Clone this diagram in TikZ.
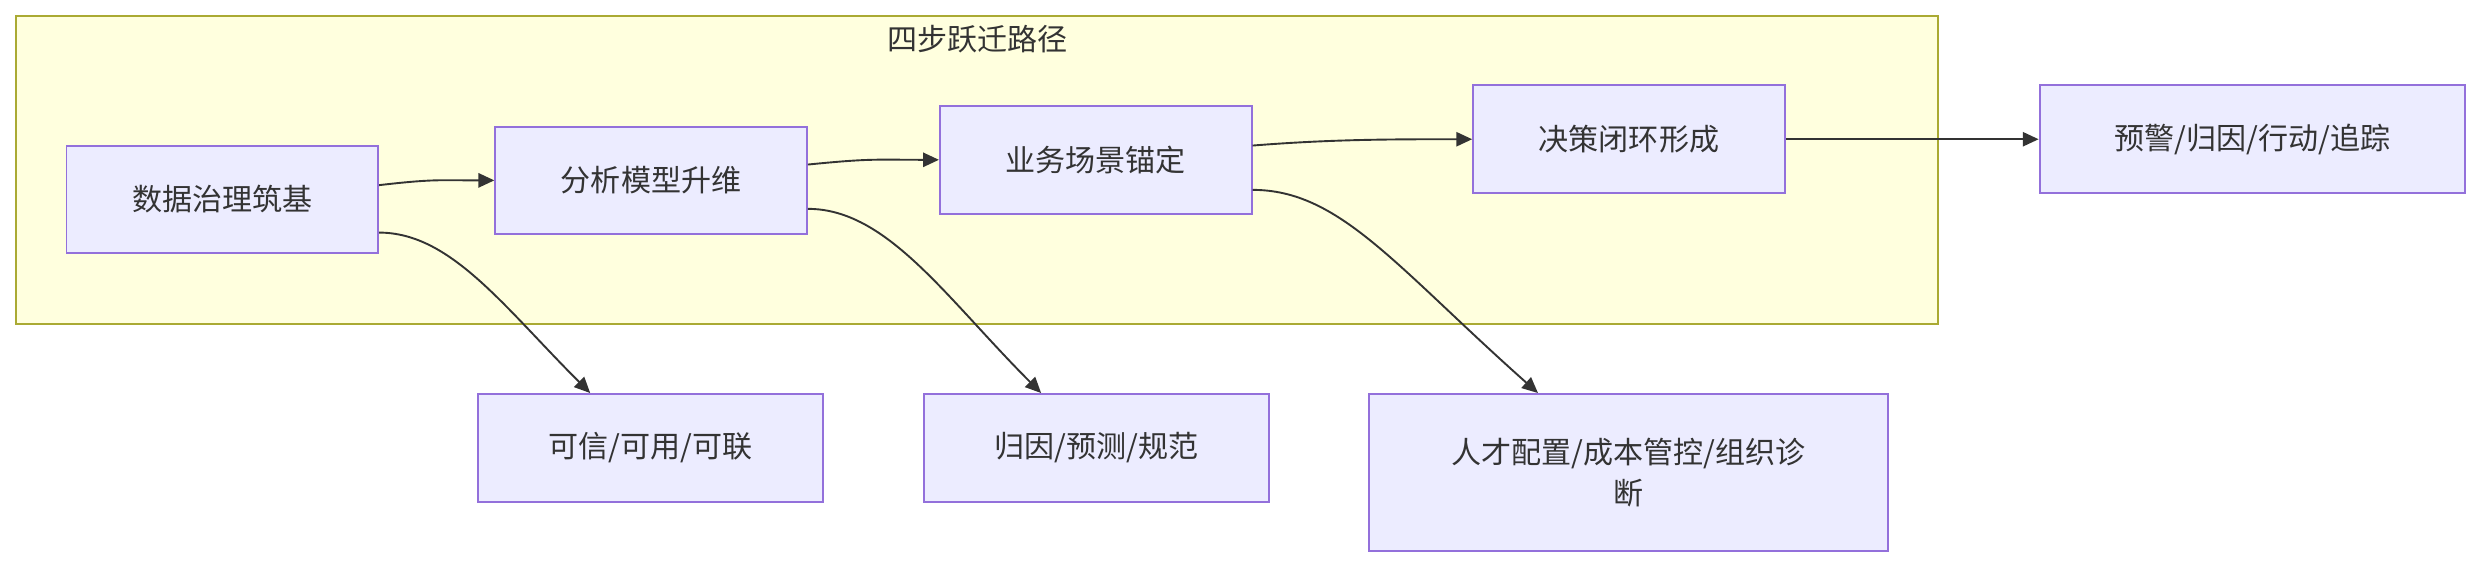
\documentclass[tikz,border=0pt]{standalone}
\usepackage{fontspec}
\setmainfont{Noto Sans CJK SC}
\usetikzlibrary{calc,arrows.meta}
\definecolor{bfill}{HTML}{ECECFF}
\definecolor{bdraw}{HTML}{9370DB}
\definecolor{cfill}{HTML}{FFFFDE}
\definecolor{cdraw}{HTML}{AAAA33}
\definecolor{ink}{HTML}{333333}
\begin{document}
\begin{tikzpicture}[x=0.5pt,y=-0.5pt,
  box/.style={draw=bdraw,fill=bfill,line width=0.6pt,minimum height=34pt,minimum width=98.5pt,inner sep=0pt,font=\fontsize{9.5}{13}\selectfont,text=ink,align=center},
  arr/.style={draw=ink,line width=0.6pt,-{Triangle[length=5pt,width=4.5pt]}}]
\useasboundingbox (0,0) rectangle (1568,358);
\fill[white] (0,0) rectangle (1568,358);
\draw[draw=cdraw,fill=cfill,line width=0.6pt] (10,10) rectangle (1225,205);
\node[font=\fontsize{9.5}{13}\selectfont,text=ink] (title) at (618,25) {四步跃迁路径};
\node[box] (n1) at (140.5,126) {数据治理筑基};
\node[box] (n2) at (411.5,114) {分析模型升维};
\node[box] (n3) at (692.5,101) {业务场景锚定};
\node[box] (n4) at (1029.5,88) {决策闭环形成};
\node[box,minimum width=134.5pt] (n5) at (1423.5,88) {预警/归因/行动/追踪};
\node[box,minimum width=109pt] (b1) at (411,283) {可信/可用/可联};
\node[box,minimum width=109pt] (b2) at (693,283) {归因/预测/规范};
\node[box,minimum width=164pt,minimum height=49.5pt] (b3) at (1029,298.5) {人才配置/成本管控/组织诊\\断};
\draw[arr] ($(n1.east)+(0,-9)$) .. controls +(35,-4) and +(-35,0) .. (n2.west);
\draw[arr] ($(n2.east)+(0,-10)$) .. controls +(40,-4) and +(-40,0) .. (n3.west);
\draw[arr] ($(n3.east)+(0,-9)$) .. controls +(50,-4) and +(-50,0) .. (n4.west);
\draw[arr] (n4.east) -- (n5.west);
\draw[arr] ($(n1.east)+(0,21)$) .. controls +(45,0) and +(-55,-55) .. ($(b1.north)+(-38,0)$);
\draw[arr] ($(n2.east)+(0,18)$) .. controls +(50,0) and +(-60,-60) .. ($(b2.north)+(-35,0)$);
\draw[arr] ($(n3.east)+(0,19)$) .. controls +(55,0) and +(-90,-80) .. ($(b3.north)+(-57,0)$);
\end{tikzpicture}
\end{document}
